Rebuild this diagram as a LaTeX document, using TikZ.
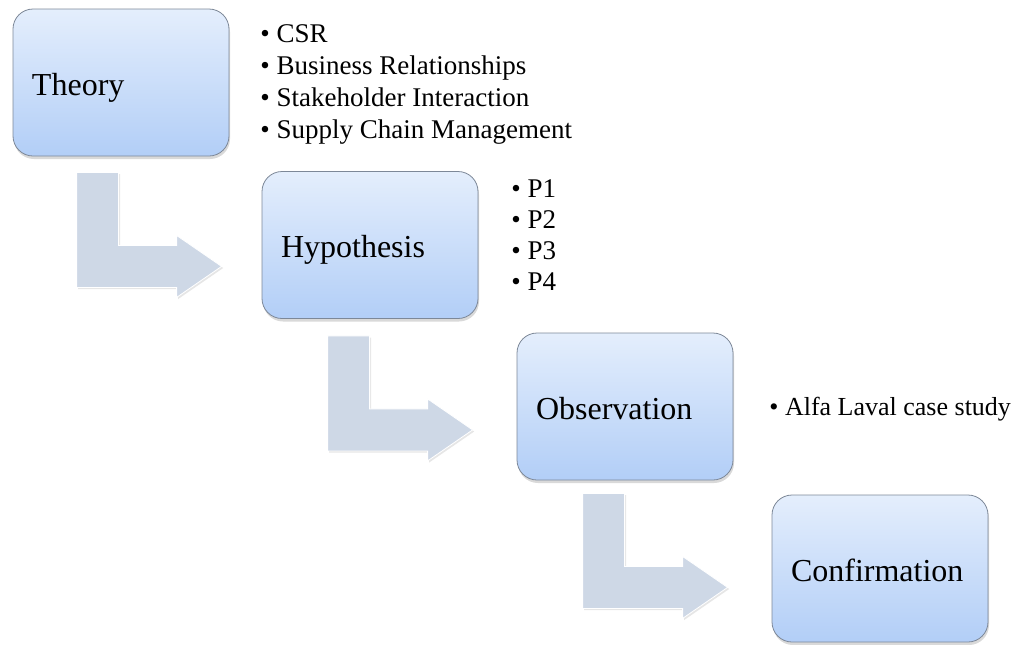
\documentclass[tikz,border=0pt]{standalone}
\usepackage{fontspec}
\setmainfont{Liberation Serif}
\usetikzlibrary{calc,shadows,positioning}
\definecolor{boxtop}{HTML}{E4EEFC}
\definecolor{boxbottom}{HTML}{B2CEF7}
\definecolor{boxline}{HTML}{7D8898}
\definecolor{arrowfill}{HTML}{CED8E6}

\begin{document}
\begin{tikzpicture}[x=0.5pt,y=-0.5pt,
    stage/.style={draw=boxline, rounded corners=10pt, top color=boxtop, bottom color=boxbottom,
        minimum height=73.5pt, text width=89pt, inner xsep=9.5pt, align=left,
        text height=14.6pt, text depth=2pt, font=\fontsize{16}{19}\selectfont,
        drop shadow={shadow xshift=0.5pt, shadow yshift=-1.5pt, opacity=0.3}},
    bullets/.style={anchor=base west, inner sep=0pt, align=left, font=\fontsize{13.5}{16}\selectfont},
    bendarrow/.style={fill=arrowfill, draw=white, line width=0.4pt,
        drop shadow={shadow xshift=0.8pt, shadow yshift=-0.8pt, opacity=0.2}}]
    \useasboundingbox (0,0) rectangle (1019,644);

    % stages
    \node[stage] (theory) at (121,82.5) {Theory};
    \node[stage] (hypothesis) at (370,245) {Hypothesis};
    \node[stage] (observation) at (625,406.5) {Observation};
    \node[stage] (confirmation) at (880,568.5) {Confirmation};

    % bullet lists (placed by the baseline of their last line)
    \node[bullets] (theorylist) at (260,138) {\textbullet\ CSR\\ \textbullet\ Business Relationships\\
        \textbullet\ Stakeholder Interaction\\ \textbullet\ Supply Chain Management};
    \node[bullets, font=\fontsize{13.5}{15.5}\selectfont] (hyplist) at (511,290)
        {\textbullet\ P1\\ \textbullet\ P2\\ \textbullet\ P3\\ \textbullet\ P4};
    \node[bullets, font=\fontsize{13}{16}\selectfont] (obslist) at (769,415) {\textbullet\ Alfa Laval case study};

    % bent arrows
    \filldraw[bendarrow] ($(theory.south west)+(64,16)$) -- ++(42,0) -- ++(0,73) -- ++(58,0)
        -- ++(0,-10) -- ++(45,31) -- ++(-45,31) -- ++(0,-10) -- ++(-100,0) -- cycle;
    \filldraw[bendarrow] ($(hypothesis.south west)+(66,17)$) -- ++(42,0) -- ++(0,73) -- ++(58,0)
        -- ++(0,-10) -- ++(45,31) -- ++(-45,31) -- ++(0,-10) -- ++(-100,0) -- cycle;
    \filldraw[bendarrow] ($(observation.south west)+(66,13)$) -- ++(42,0) -- ++(0,73) -- ++(58,0)
        -- ++(0,-10) -- ++(45,31) -- ++(-45,31) -- ++(0,-10) -- ++(-100,0) -- cycle;
\end{tikzpicture}
\end{document}
